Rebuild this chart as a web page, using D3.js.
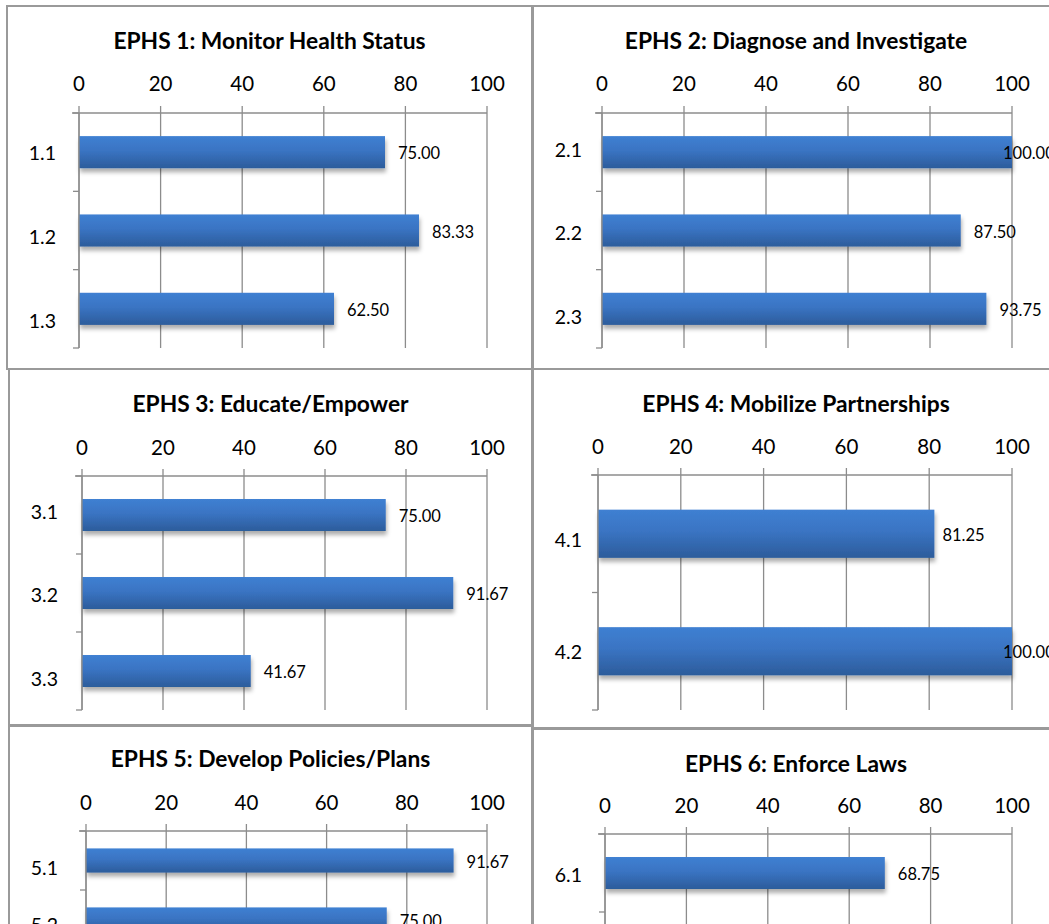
<!DOCTYPE html>
<html>
<head>
<meta charset="utf-8">
<script src="https://cdn.jsdelivr.net/npm/d3@7/dist/d3.min.js"></script>
<style>
  html, body { margin: 0; padding: 0; background: #ffffff; overflow: hidden; }
  svg { display: block; }
</style>
</head>
<body>
<svg id="chart" width="1049" height="924"></svg>
<script>
// ---------------- DATA ----------------
const tickValues = [0, 20, 40, 60, 80, 100];
const tickLabels = ["0", "20", "40", "60", "80", "100"];

const titles = [
  "EPHS 1: Monitor Health Status",
  "EPHS 2: Diagnose and Investigate",
  "EPHS 3: Educate/Empower",
  "EPHS 4: Mobilize Partnerships",
  "EPHS 5: Develop Policies/Plans",
  "EPHS 6: Enforce Laws"
];

const categories1 = ["1.1", "1.2", "1.3"];
const values1 = [75.00, 83.33, 62.50];

const categories2 = ["2.1", "2.2", "2.3"];
const values2 = [100.00, 87.50, 93.75];

const categories3 = ["3.1", "3.2", "3.3"];
const values3 = [75.00, 91.67, 41.67];

const categories4 = ["4.1", "4.2"];
const values4 = [81.25, 100.00];

// only the first two bars are visible in the picture
const categories5 = ["5.1", "5.2", "5.3", "5.4"];
const values5 = [91.67, 75.00];

// only the first bar is visible in the picture
const categories6 = ["6.1", "6.2", "6.3"];
const values6 = [68.75];

// ---------------- LAYOUT ----------------
const layout = [
  { box: [7, 6, 532, 369],    x0: 79,  x1: 487,  titleY: 40,  tickY: 83,  top: 113, bottom: 348,  labels: [153, 321], gap: 13 },
  { box: [533, 6, 1059, 369], x0: 602, x1: 1012, titleY: 40,  tickY: 83,  top: 113, bottom: 348,  labels: [150, 317], gap: 13 },
  { box: [9, 369, 532, 725],  x0: 82,  x1: 487,  titleY: 403, tickY: 447, top: 476, bottom: 710,  labels: [512, 679], gap: 13 },
  { box: [533, 369, 1059, 728], x0: 598, x1: 1012, titleY: 403, tickY: 446, top: 475, bottom: 710, labels: [540, 652], gap: 8 },
  { box: [9, 726, 532, 1100], x0: 86,  x1: 487,  titleY: 758, tickY: 802, top: 831, bottom: 1067, labels: [868, 1039], gap: 13 },
  { box: [533, 729, 1059, 1100], x0: 605, x1: 1012, titleY: 763, tickY: 805, top: 834, bottom: 1068, labels: [875, 1041], gap: 13 }
];
const seriesCats = [categories1, categories2, categories3, categories4, categories5, categories6];
const seriesVals = [values1, values2, values3, values4, values5, values6];

const FONT = "Lato, 'Open Sans', sans-serif";
const GRID = "#8c8c8c";

const svg = d3.select("#chart");
const defs = svg.append("defs");
const grad = defs.append("linearGradient").attr("id", "barGrad")
  .attr("x1", 0).attr("y1", 0).attr("x2", 0).attr("y2", 1);
grad.append("stop").attr("offset", "0%").attr("stop-color", "#3f80d2");
grad.append("stop").attr("offset", "45%").attr("stop-color", "#3a74c3");
grad.append("stop").attr("offset", "100%").attr("stop-color", "#2c5c9b");

const shadow = defs.append("filter").attr("id", "shadow")
  .attr("x", "-5%").attr("y", "-20%").attr("width", "115%").attr("height", "160%");
shadow.append("feDropShadow").attr("dx", 1).attr("dy", 4).attr("stdDeviation", 2.2)
  .attr("flood-color", "#000").attr("flood-opacity", 0.32);

layout.forEach((L, i) => {
  const cats = seriesCats[i];
  const vals = seriesVals[i];
  const g = svg.append("g");
  const [bx0, by0, bx1, by1] = L.box;

  // panel frame
  g.append("rect")
    .attr("x", bx0).attr("y", by0)
    .attr("width", bx1 - bx0).attr("height", by1 - by0)
    .attr("fill", "#fff").attr("stroke", "#9a9a9a").attr("stroke-width", 2);

  const x = d3.scaleLinear().domain([0, 100]).range([L.x0, L.x1]);
  const y = d3.scaleBand().domain(cats).range([L.top, L.bottom]);
  const labelScale = d3.scalePoint().domain(cats).range(L.labels);

  // title
  g.append("text")
    .attr("x", (bx0 + bx1) / 2).attr("y", L.titleY)
    .attr("text-anchor", "middle").attr("dominant-baseline", "central")
    .attr("font-family", FONT).attr("font-weight", "bold").attr("font-size", 22.8)
    .attr("fill", "#000")
    .text(titles[i]);

  // vertical gridlines (with tick stubs above the axis line)
  g.append("g").selectAll("line").data(tickValues).join("line")
    .attr("x1", d => x(d)).attr("x2", d => x(d))
    .attr("y1", L.top - 7).attr("y2", L.bottom)
    .attr("stroke", GRID).attr("stroke-width", 1.3);

  // top axis line
  g.append("line")
    .attr("x1", L.x0 - 7).attr("x2", x(100))
    .attr("y1", L.top).attr("y2", L.top)
    .attr("stroke", GRID).attr("stroke-width", 1.3);

  // top tick labels
  g.append("g").selectAll("text").data(tickValues).join("text")
    .attr("x", d => x(d)).attr("y", L.tickY)
    .attr("text-anchor", "middle").attr("dominant-baseline", "central")
    .attr("font-family", FONT).attr("font-size", 20.5).attr("fill", "#000")
    .text((d, k) => tickLabels[k]);

  // bars
  const bh = y.bandwidth() * 0.41;
  const barData = vals.map((v, k) => ({ c: cats[k], v }));
  g.append("g").selectAll("rect").data(barData).join("rect")
    .attr("x", x(0))
    .attr("y", d => y(d.c) + (y.bandwidth() - bh) / 2)
    .attr("width", d => x(d.v) - x(0))
    .attr("height", bh)
    .attr("fill", "url(#barGrad)")
    .attr("filter", "url(#shadow)");

  // value labels
  g.append("g").selectAll("text").data(barData).join("text")
    .attr("x", d => Math.min(x(d.v) + L.gap, x(100) - 9))
    .attr("y", d => y(d.c) + y.bandwidth() / 2 + 1)
    .attr("dominant-baseline", "central")
    .attr("font-family", FONT).attr("font-size", 16.5).attr("fill", "#000")
    .text(d => d.v.toFixed(2));

  // left category axis line + boundary ticks
  g.append("line")
    .attr("x1", x(0)).attr("x2", x(0))
    .attr("y1", L.top).attr("y2", L.bottom)
    .attr("stroke", GRID).attr("stroke-width", 1.3);
  const bounds = cats.map(c => y(c)).concat([L.bottom]);
  g.append("g").selectAll("line").data(bounds).join("line")
    .attr("x1", x(0) - 6).attr("x2", x(0))
    .attr("y1", d => d).attr("y2", d => d)
    .attr("stroke", GRID).attr("stroke-width", 1.3);

  // category labels
  const labelRight = bx0 + 49;
  const ax = g.append("g")
    .attr("transform", `translate(${x(0)},0)`)
    .call(d3.axisLeft(labelScale).tickSize(0).tickPadding(x(0) - labelRight));
  ax.select(".domain").remove();
  ax.selectAll("text")
    .attr("font-family", FONT).attr("font-size", 19.5).attr("fill", "#000");
});
</script>
</body>
</html>
